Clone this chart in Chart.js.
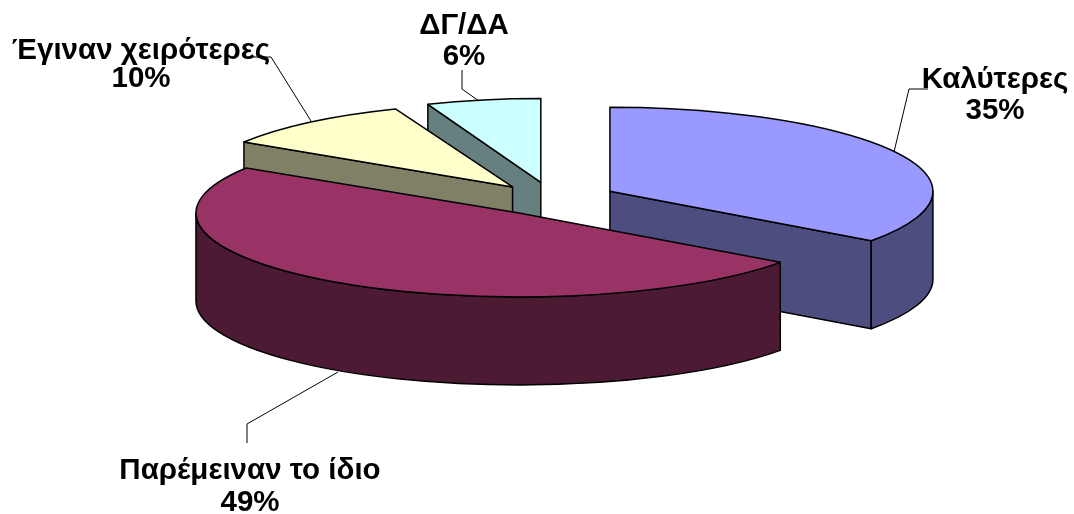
<!DOCTYPE html>
<html>
<head>
<meta charset="utf-8">
<style>
  html, body { margin: 0; padding: 0; background: #fff; }
  #wrap { width: 1074px; height: 514px; }
</style>
<script src="https://cdn.jsdelivr.net/npm/chart.js@4"></script>
</head>
<body>
<div id="wrap"><canvas id="chart" width="1074" height="514"></canvas></div>
<script>
// data
const categories = ['Καλύτερες', 'Παρέμειναν το ίδιο', 'Έγιναν χειρότερες', 'ΔΓ/ΔΑ'];
const values = [35, 49, 10, 6];

// colours
const topColors = ['#9999ff', '#993366', '#ffffcc', '#ccffff'];
const wallColors = ['#4d4d80', '#4d1a33', '#808066', '#668080'];

// 3d look of the pie
const SQUASH = 0.26;
const DEPTH = 88;
const EXPLODE = 65;
const DRAW_ORDER = [3, 2, 0, 1];
// the original has some perspective, back slices come out a bit narrower
const widthScale = [1, 1, 0.985, 0.95];
const nudgeX = [0, 3.5, 2, 1];
const nudgeY = [0, 0, 1, 0];

// label placement, same order as categories: centre x, baseline of both lines, leader line
const labelX = [995, 250, 141, 464];
const labelY = [[88, 119], [479, 511], [59, 87], [34, 65]];
const leaders = [
  [[894, 152], [909, 89], [928, 89]],
  [[338, 372], [247, 424], [247, 443]],
  [[311, 121], [271, 57], [250, 57]],
  [[479, 101], [462, 89], [462, 70]]
];

function drawSlice(ctx, arc, i) {
  const mid = (arc.startAngle + arc.endAngle) / 2;
  const cx = arc.x + Math.cos(mid) * EXPLODE + nudgeX[i];
  const cy = arc.y + Math.sin(mid) * EXPLODE * SQUASH + nudgeY[i];
  const rx = arc.outerRadius * widthScale[i];
  const ry = arc.outerRadius * SQUASH;
  const a0 = arc.startAngle;
  const a1 = arc.endAngle;

  ctx.lineWidth = 1.5;
  ctx.lineJoin = 'round';
  ctx.strokeStyle = '#000';

  // flat cut faces, only the ones turned towards the viewer
  const face = (a) => {
    ctx.beginPath();
    ctx.moveTo(cx, cy);
    ctx.lineTo(cx + Math.cos(a) * rx, cy + Math.sin(a) * ry);
    ctx.lineTo(cx + Math.cos(a) * rx, cy + Math.sin(a) * ry + DEPTH);
    ctx.lineTo(cx, cy + DEPTH);
    ctx.closePath();
    ctx.fillStyle = wallColors[i];
    ctx.fill();
    ctx.stroke();
  };
  if (Math.cos(a0) < -1e-6) face(a0);
  if (Math.cos(a1) > 1e-6) face(a1);

  // outer rim, the front half of the ellipse only
  const r0 = Math.max(a0, 0);
  const r1 = Math.min(a1, Math.PI);
  if (r1 > r0) {
    ctx.beginPath();
    ctx.ellipse(cx, cy, rx, ry, 0, r0, r1);
    ctx.ellipse(cx, cy + DEPTH, rx, ry, 0, r1, r0, true);
    ctx.closePath();
    ctx.fillStyle = wallColors[i];
    ctx.fill();
    ctx.stroke();
  }

  // top face
  ctx.beginPath();
  ctx.moveTo(cx, cy);
  ctx.ellipse(cx, cy, rx, ry, 0, a0, a1);
  ctx.closePath();
  ctx.fillStyle = arc.options.backgroundColor;
  ctx.fill();
  ctx.stroke();
}

const pie3d = {
  id: 'pie3d',
  beforeDatasetsDraw(chart) {
    const ctx = chart.ctx;
    const arcs = chart.getDatasetMeta(0).data;
    ctx.save();
    DRAW_ORDER.forEach(i => drawSlice(ctx, arcs[i], i));
    ctx.restore();
    return false;
  },
  afterDraw(chart) {
    const ctx = chart.ctx;
    ctx.save();
    // leader lines
    ctx.strokeStyle = '#000';
    ctx.lineWidth = 1;
    leaders.forEach(pts => {
      ctx.beginPath();
      pts.forEach((p, n) => n ? ctx.lineTo(p[0], p[1]) : ctx.moveTo(p[0], p[1]));
      ctx.stroke();
    });
    // labels
    ctx.fillStyle = '#000';
    ctx.font = 'bold 29.5px "Liberation Sans", Arial, sans-serif';
    ctx.textAlign = 'center';
    ctx.textBaseline = 'alphabetic';
    categories.forEach((name, i) => {
      ctx.fillText(name, labelX[i], labelY[i][0]);
      ctx.fillText(values[i] + '%', labelX[i], labelY[i][1]);
    });
    ctx.restore();
  }
};

new Chart(document.getElementById('chart'), {
  type: 'pie',
  data: {
    labels: categories,
    datasets: [{ data: values, backgroundColor: topColors, borderWidth: 0, radius: 323 }]
  },
  options: {
    responsive: false,
    animation: false,
    layout: { padding: { left: 30, bottom: 116 } },
    plugins: { legend: { display: false }, tooltip: { enabled: false } }
  },
  plugins: [pie3d]
});
</script>
</body>
</html>
